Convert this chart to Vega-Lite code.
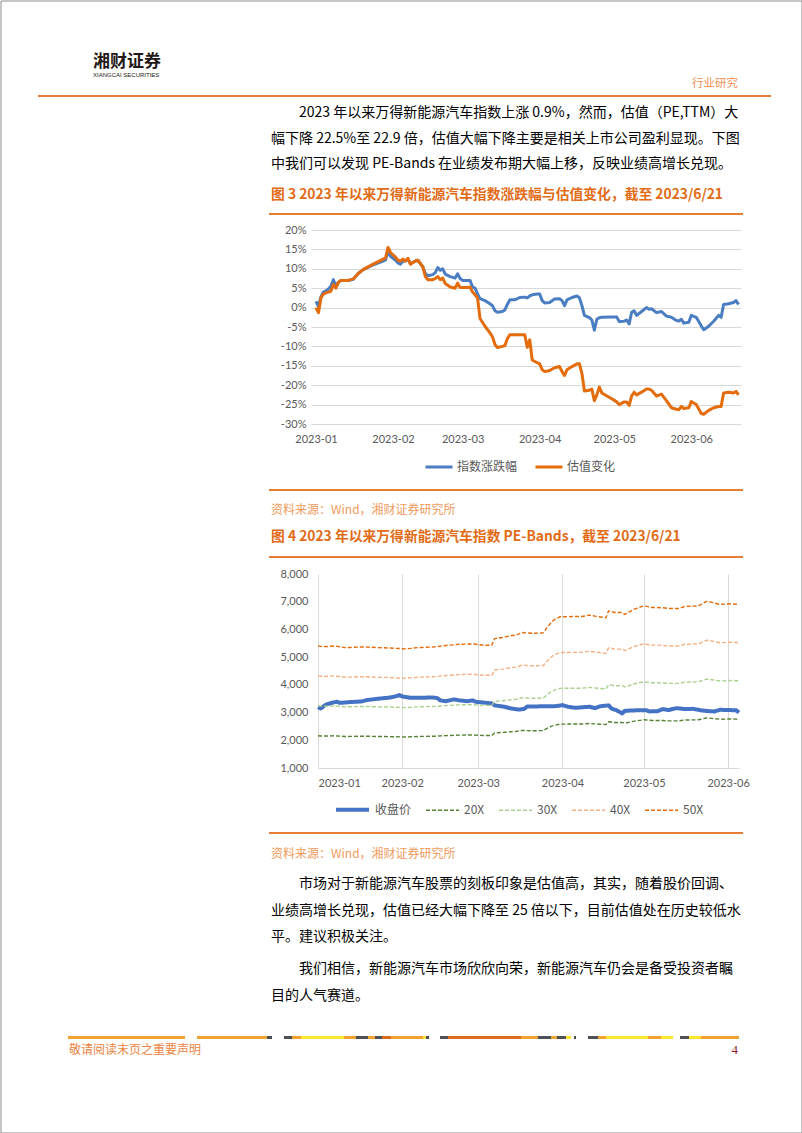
{
  "$schema": "https://vega.github.io/schema/vega-lite/v6.json",
  "background": "white",
  "padding": 0,
  "bounds": "flush",
  "spacing": 0,
  "resolve": {
    "scale": {"x": "independent", "y": "independent", "x2": "independent", "y2": "independent", "color": "independent", "strokeDash": "independent", "strokeWidth": "independent"},
    "legend": {"color": "independent", "strokeDash": "independent", "strokeWidth": "independent"}
  },
  "config": {
    "view": {"stroke": null},
    "font": "Noto Sans CJK SC",
    "axis": {"labelFont": "Lato", "labelFontSize": 11, "labelColor": "#595959"},
    "title": {"font": "Noto Sans CJK SC", "anchor": "start", "frame": "group", "fontWeight": "normal"}
  },
  "datasets": {
    "c1": [
      {"d":"2023-01-01","指数涨跌幅":1.6,"估值变化":0},
      {"d":"2023-01-02","指数涨跌幅":0.3,"估值变化":-1.3},
      {"d":"2023-01-03","指数涨跌幅":2.8,"估值变化":2.5},
      {"d":"2023-01-04","指数涨跌幅":4.0,"估值变化":3.5},
      {"d":"2023-01-05","指数涨跌幅":4.3,"估值变化":3.8},
      {"d":"2023-01-06","指数涨跌幅":4.8,"估值变化":4.0},
      {"d":"2023-01-07","指数涨跌幅":5.5,"估值变化":4.2},
      {"d":"2023-01-08","指数涨跌幅":7.2,"估值变化":6.0},
      {"d":"2023-01-09","指数涨跌幅":5.5,"估值变化":5.0},
      {"d":"2023-01-10","指数涨跌幅":6.5,"估值变化":6.5},
      {"d":"2023-01-11","指数涨跌幅":7.0,"估值变化":7.0},
      {"d":"2023-01-14","指数涨跌幅":7.0,"估值变化":7.0},
      {"d":"2023-01-16","指数涨跌幅":7.3,"估值变化":7.4},
      {"d":"2023-01-18","指数涨跌幅":8.8,"估值变化":8.8},
      {"d":"2023-01-20","指数涨跌幅":9.8,"估值变化":9.8},
      {"d":"2023-01-24","指数涨跌幅":11.0,"估值变化":11.2},
      {"d":"2023-01-28","指数涨跌幅":12.0,"估值变化":12.5},
      {"d":"2023-01-29","指数涨跌幅":12.3,"估值变化":12.8},
      {"d":"2023-01-30","指数涨跌幅":14.5,"估值变化":15.5},
      {"d":"2023-01-31","指数涨跌幅":13.2,"估值变化":14.2},
      {"d":"2023-02-02","指数涨跌幅":12.2,"估值变化":13.0},
      {"d":"2023-02-03","指数涨跌幅":11.5,"估值变化":12.2},
      {"d":"2023-02-04","指数涨跌幅":11.2,"估值变化":12.0},
      {"d":"2023-02-05","指数涨跌幅":12.0,"估值变化":12.5},
      {"d":"2023-02-06","指数涨跌幅":12.0,"估值变化":12.0},
      {"d":"2023-02-07","指数涨跌幅":12.5,"估值变化":12.7},
      {"d":"2023-02-08","指数涨跌幅":11.3,"估值变化":11.2},
      {"d":"2023-02-10","指数涨跌幅":12.0,"估值变化":12.0},
      {"d":"2023-02-11","指数涨跌幅":12.2,"估值变化":12.2},
      {"d":"2023-02-13","指数涨跌幅":10.5,"估值变化":10.5},
      {"d":"2023-02-14","指数涨跌幅":8.8,"估值变化":8.0},
      {"d":"2023-02-15","指数涨跌幅":8.2,"估值变化":7.2},
      {"d":"2023-02-17","指数涨跌幅":8.5,"估值变化":7.2},
      {"d":"2023-02-18","指数涨跌幅":9.0,"估值变化":7.5},
      {"d":"2023-02-19","指数涨跌幅":10.3,"估值变化":8.0},
      {"d":"2023-02-20","指数涨跌幅":9.6,"估值变化":7.2},
      {"d":"2023-02-21","指数涨跌幅":10.0,"估值变化":7.6},
      {"d":"2023-02-22","指数涨跌幅":8.6,"估值变化":6.2},
      {"d":"2023-02-24","指数涨跌幅":8.0,"估值变化":5.3},
      {"d":"2023-02-26","指数涨跌幅":7.6,"估值变化":5.0},
      {"d":"2023-02-27","指数涨跌幅":8.7,"估值变化":6.3},
      {"d":"2023-02-28","指数涨跌幅":7.5,"估值变化":5.2},
      {"d":"2023-03-01","指数涨跌幅":7.0,"估值变化":5.2},
      {"d":"2023-03-03","指数涨跌幅":7.0,"估值变化":5.2},
      {"d":"2023-03-04","指数涨跌幅":7.0,"估值变化":5.3},
      {"d":"2023-03-05","指数涨跌幅":5.3,"估值变化":4.0},
      {"d":"2023-03-06","指数涨跌幅":5.0,"估值变化":3.3},
      {"d":"2023-03-07","指数涨跌幅":3.5,"估值变化":2.5},
      {"d":"2023-03-08","指数涨跌幅":2.3,"估值变化":-2.8},
      {"d":"2023-03-10","指数涨跌幅":1.8,"估值变化":-4.8},
      {"d":"2023-03-12","指数涨跌幅":1.0,"估值变化":-6.5},
      {"d":"2023-03-13","指数涨跌幅":0.5,"估值变化":-7.5},
      {"d":"2023-03-14","指数涨跌幅":-0.8,"估值变化":-9.5},
      {"d":"2023-03-15","指数涨跌幅":-1.2,"估值变化":-10.3},
      {"d":"2023-03-17","指数涨跌幅":-1.0,"估值变化":-10.0},
      {"d":"2023-03-18","指数涨跌幅":-0.6,"估值变化":-9.8},
      {"d":"2023-03-19","指数涨跌幅":0.8,"估值变化":-8.0},
      {"d":"2023-03-20","指数涨跌幅":2.0,"估值变化":-7.0},
      {"d":"2023-03-22","指数涨跌幅":2.0,"估值变化":-7.0},
      {"d":"2023-03-24","指数涨跌幅":2.6,"估值变化":-7.0},
      {"d":"2023-03-26","指数涨跌幅":2.7,"估值变化":-7.0},
      {"d":"2023-03-27","指数涨跌幅":2.5,"估值变化":-10.2},
      {"d":"2023-03-28","指数涨跌幅":3.0,"估值变化":-8.3},
      {"d":"2023-03-29","指数涨跌幅":3.3,"估值变化":-13.5},
      {"d":"2023-03-31","指数涨跌幅":3.5,"估值变化":-14.2},
      {"d":"2023-04-01","指数涨跌幅":3.5,"估值变化":-14.5},
      {"d":"2023-04-02","指数涨跌幅":1.8,"估值变化":-16.0},
      {"d":"2023-04-03","指数涨跌幅":1.2,"估值变化":-16.5},
      {"d":"2023-04-05","指数涨跌幅":1.3,"估值变化":-16.2},
      {"d":"2023-04-07","指数涨跌幅":2.2,"估值变化":-15.5},
      {"d":"2023-04-09","指数涨跌幅":2.3,"估值变化":-15.2},
      {"d":"2023-04-10","指数涨跌幅":1.8,"估值变化":-16.5},
      {"d":"2023-04-11","指数涨跌幅":0.5,"估值变化":-17.5},
      {"d":"2023-04-12","指数涨跌幅":2.0,"估值变化":-16.0},
      {"d":"2023-04-14","指数涨跌幅":2.6,"估值变化":-15.2},
      {"d":"2023-04-16","指数涨跌幅":3.0,"估值变化":-14.5},
      {"d":"2023-04-17","指数涨跌幅":2.5,"估值变化":-14.5},
      {"d":"2023-04-18","指数涨跌幅":0.5,"估值变化":-17.0},
      {"d":"2023-04-19","指数涨跌幅":-2.0,"估值变化":-21.5},
      {"d":"2023-04-21","指数涨跌幅":-2.6,"估值变化":-21.3},
      {"d":"2023-04-22","指数涨跌幅":-3.2,"估值变化":-21.0},
      {"d":"2023-04-23","指数涨跌幅":-5.8,"估值变化":-24.0},
      {"d":"2023-04-24","指数涨跌幅":-3.0,"估值变化":-22.5},
      {"d":"2023-04-25","指数涨跌幅":-2.6,"估值变化":-20.5},
      {"d":"2023-04-26","指数涨跌幅":-2.5,"估值变化":-22.0},
      {"d":"2023-04-30","指数涨跌幅":-2.4,"估值变化":-23.5},
      {"d":"2023-05-02","指数涨跌幅":-2.4,"估值变化":-24.3},
      {"d":"2023-05-03","指数涨跌幅":-3.6,"估值变化":-25.0},
      {"d":"2023-05-05","指数涨跌幅":-3.5,"估值变化":-24.3},
      {"d":"2023-05-06","指数涨跌幅":-3.2,"估值变化":-24.3},
      {"d":"2023-05-07","指数涨跌幅":-4.2,"估值变化":-25.2},
      {"d":"2023-05-08","指数涨跌幅":-1.2,"估值变化":-22.8},
      {"d":"2023-05-09","指数涨跌幅":-0.8,"估值变化":-21.8},
      {"d":"2023-05-10","指数涨跌幅":-2.0,"估值变化":-22.5},
      {"d":"2023-05-12","指数涨跌幅":-1.0,"估值变化":-21.8},
      {"d":"2023-05-14","指数涨跌幅":0.0,"估值变化":-21.0},
      {"d":"2023-05-15","指数涨跌幅":-0.4,"估值变化":-21.0},
      {"d":"2023-05-16","指数涨跌幅":-0.3,"估值变化":-21.3},
      {"d":"2023-05-18","指数涨跌幅":-1.3,"估值变化":-22.8},
      {"d":"2023-05-20","指数涨跌幅":-1.0,"估值变化":-22.3},
      {"d":"2023-05-22","指数涨跌幅":-2.2,"估值变化":-24.0},
      {"d":"2023-05-24","指数涨跌幅":-2.5,"估值变化":-25.8},
      {"d":"2023-05-26","指数涨跌幅":-3.3,"估值变化":-26.2},
      {"d":"2023-05-27","指数涨跌幅":-3.5,"估值变化":-26.3},
      {"d":"2023-05-28","指数涨跌幅":-3.0,"估值变化":-25.5},
      {"d":"2023-05-29","指数涨跌幅":-4.0,"估值变化":-26.0},
      {"d":"2023-05-31","指数涨跌幅":-3.8,"估值变化":-25.8},
      {"d":"2023-06-01","指数涨跌幅":-2.0,"估值变化":-24.2},
      {"d":"2023-06-03","指数涨跌幅":-2.5,"估值变化":-25.0},
      {"d":"2023-06-05","指数涨跌幅":-4.7,"估值变化":-27.3},
      {"d":"2023-06-06","指数涨跌幅":-5.7,"估值变化":-27.5},
      {"d":"2023-06-08","指数涨跌幅":-4.8,"估值变化":-26.5},
      {"d":"2023-06-10","指数涨跌幅":-3.5,"估值变化":-25.8},
      {"d":"2023-06-12","指数涨跌幅":-2.0,"估值变化":-25.5},
      {"d":"2023-06-13","指数涨跌幅":-2.5,"估值变化":-25.5},
      {"d":"2023-06-14","指数涨跌幅":0.8,"估值变化":-22.0},
      {"d":"2023-06-16","指数涨跌幅":1.0,"估值变化":-21.8},
      {"d":"2023-06-18","指数涨跌幅":1.3,"估值变化":-22.0},
      {"d":"2023-06-19","指数涨跌幅":1.8,"估值变化":-21.6},
      {"d":"2023-06-20","指数涨跌幅":0.8,"估值变化":-22.5}
    ],
    "c2": [
      {"d":"2023-01-01","收盘价":3200,"20X":2162,"30X":3243,"40X":4324,"50X":5405},
      {"d":"2023-01-02","收盘价":3150,"20X":2156,"30X":3234,"40X":4312,"50X":5390},
      {"d":"2023-01-04","收盘价":3290,"20X":2152,"30X":3228,"40X":4304,"50X":5380},
      {"d":"2023-01-06","收盘价":3350,"20X":2158,"30X":3237,"40X":4316,"50X":5395},
      {"d":"2023-01-07","收盘价":3370,"20X":2162,"30X":3243,"40X":4324,"50X":5405},
      {"d":"2023-01-08","收盘价":3390,"20X":2156,"30X":3234,"40X":4312,"50X":5390},
      {"d":"2023-01-09","收盘价":3350,"20X":2150,"30X":3225,"40X":4300,"50X":5375},
      {"d":"2023-01-11","收盘价":3365,"20X":2138,"30X":3207,"40X":4276,"50X":5345},
      {"d":"2023-01-13","收盘价":3380,"20X":2140,"30X":3210,"40X":4280,"50X":5350},
      {"d":"2023-01-17","收盘价":3400,"20X":2148,"30X":3222,"40X":4296,"50X":5370},
      {"d":"2023-01-19","收盘价":3450,"20X":2145,"30X":3217,"40X":4290,"50X":5362},
      {"d":"2023-01-23","收盘价":3500,"20X":2138,"30X":3207,"40X":4276,"50X":5345},
      {"d":"2023-01-27","收盘价":3535,"20X":2132,"30X":3198,"40X":4264,"50X":5330},
      {"d":"2023-01-29","收盘价":3570,"20X":2128,"30X":3192,"40X":4256,"50X":5320},
      {"d":"2023-01-31","收盘价":3630,"20X":2124,"30X":3186,"40X":4248,"50X":5310},
      {"d":"2023-02-01","收盘价":3580,"20X":2122,"30X":3183,"40X":4244,"50X":5305},
      {"d":"2023-02-02","收盘价":3565,"20X":2120,"30X":3180,"40X":4240,"50X":5300},
      {"d":"2023-02-04","收盘价":3535,"20X":2126,"30X":3189,"40X":4252,"50X":5315},
      {"d":"2023-02-07","收盘价":3535,"20X":2138,"30X":3207,"40X":4276,"50X":5345},
      {"d":"2023-02-08","收盘价":3535,"20X":2140,"30X":3210,"40X":4280,"50X":5350},
      {"d":"2023-02-12","收盘价":3545,"20X":2146,"30X":3219,"40X":4292,"50X":5365},
      {"d":"2023-02-13","收盘价":3535,"20X":2148,"30X":3222,"40X":4296,"50X":5370},
      {"d":"2023-02-14","收盘价":3520,"20X":2152,"30X":3228,"40X":4304,"50X":5380},
      {"d":"2023-02-15","收盘价":3440,"20X":2158,"30X":3237,"40X":4316,"50X":5395},
      {"d":"2023-02-17","收盘价":3410,"20X":2168,"30X":3252,"40X":4336,"50X":5420},
      {"d":"2023-02-18","收盘价":3430,"20X":2172,"30X":3258,"40X":4344,"50X":5430},
      {"d":"2023-02-20","收盘价":3475,"20X":2178,"30X":3267,"40X":4356,"50X":5445},
      {"d":"2023-02-22","收盘价":3440,"20X":2186,"30X":3279,"40X":4372,"50X":5465},
      {"d":"2023-02-25","收盘价":3410,"20X":2189,"30X":3283,"40X":4378,"50X":5472},
      {"d":"2023-02-27","收盘价":3440,"20X":2191,"30X":3287,"40X":4382,"50X":5478},
      {"d":"2023-02-28","收盘价":3390,"20X":2186,"30X":3279,"40X":4372,"50X":5465},
      {"d":"2023-03-03","收盘价":3360,"20X":2172,"30X":3258,"40X":4344,"50X":5430},
      {"d":"2023-03-04","收盘价":3350,"20X":2172,"30X":3258,"40X":4344,"50X":5430},
      {"d":"2023-03-06","收盘价":3330,"20X":2172,"30X":3258,"40X":4344,"50X":5430},
      {"d":"2023-03-07","收盘价":3260,"20X":2268,"30X":3402,"40X":4536,"50X":5670},
      {"d":"2023-03-10","收盘价":3220,"20X":2284,"30X":3426,"40X":4568,"50X":5710},
      {"d":"2023-03-11","收盘价":3200,"20X":2292,"30X":3438,"40X":4584,"50X":5730},
      {"d":"2023-03-13","收盘价":3150,"20X":2308,"30X":3462,"40X":4616,"50X":5770},
      {"d":"2023-03-15","收盘价":3120,"20X":2320,"30X":3480,"40X":4640,"50X":5800},
      {"d":"2023-03-16","收盘价":3110,"20X":2336,"30X":3504,"40X":4672,"50X":5840},
      {"d":"2023-03-17","收盘价":3120,"20X":2356,"30X":3534,"40X":4712,"50X":5890},
      {"d":"2023-03-18","收盘价":3135,"20X":2352,"30X":3528,"40X":4704,"50X":5880},
      {"d":"2023-03-19","收盘价":3220,"20X":2350,"30X":3525,"40X":4700,"50X":5875},
      {"d":"2023-03-21","收盘价":3220,"20X":2344,"30X":3516,"40X":4688,"50X":5860},
      {"d":"2023-03-22","收盘价":3220,"20X":2345,"30X":3517,"40X":4690,"50X":5862},
      {"d":"2023-03-25","收盘价":3228,"20X":2350,"30X":3525,"40X":4700,"50X":5875},
      {"d":"2023-03-26","收盘价":3230,"20X":2412,"30X":3618,"40X":4824,"50X":6030},
      {"d":"2023-03-28","收盘价":3230,"20X":2508,"30X":3762,"40X":5016,"50X":6270},
      {"d":"2023-03-29","收盘价":3230,"20X":2540,"30X":3810,"40X":5080,"50X":6350},
      {"d":"2023-03-31","收盘价":3250,"20X":2582,"30X":3873,"40X":5164,"50X":6455},
      {"d":"2023-04-01","收盘价":3270,"20X":2583,"30X":3875,"40X":5166,"50X":6458},
      {"d":"2023-04-03","收盘价":3210,"20X":2585,"30X":3877,"40X":5170,"50X":6462},
      {"d":"2023-04-05","收盘价":3180,"20X":2586,"30X":3879,"40X":5172,"50X":6465},
      {"d":"2023-04-06","收盘价":3170,"20X":2586,"30X":3879,"40X":5172,"50X":6465},
      {"d":"2023-04-08","收盘价":3190,"20X":2586,"30X":3879,"40X":5172,"50X":6465},
      {"d":"2023-04-11","收盘价":3210,"20X":2606,"30X":3909,"40X":5212,"50X":6515},
      {"d":"2023-04-13","收盘价":3160,"20X":2592,"30X":3888,"40X":5184,"50X":6480},
      {"d":"2023-04-15","收盘价":3230,"20X":2580,"30X":3870,"40X":5160,"50X":6450},
      {"d":"2023-04-17","收盘价":3250,"20X":2568,"30X":3852,"40X":5136,"50X":6420},
      {"d":"2023-04-18","收盘价":3260,"20X":2668,"30X":4002,"40X":5336,"50X":6670},
      {"d":"2023-04-19","收盘价":3150,"20X":2660,"30X":3990,"40X":5320,"50X":6650},
      {"d":"2023-04-20","收盘价":3110,"20X":2644,"30X":3966,"40X":5288,"50X":6610},
      {"d":"2023-04-21","收盘价":3080,"20X":2644,"30X":3966,"40X":5288,"50X":6610},
      {"d":"2023-04-23","收盘价":2970,"20X":2644,"30X":3966,"40X":5288,"50X":6610},
      {"d":"2023-04-24","收盘价":3065,"20X":2616,"30X":3924,"40X":5232,"50X":6540},
      {"d":"2023-04-27","收盘价":3075,"20X":2684,"30X":4026,"40X":5368,"50X":6710},
      {"d":"2023-04-28","收盘价":3080,"20X":2700,"30X":4050,"40X":5400,"50X":6750},
      {"d":"2023-05-01","收盘价":3080,"20X":2740,"30X":4110,"40X":5480,"50X":6850},
      {"d":"2023-05-02","收盘价":3080,"20X":2732,"30X":4098,"40X":5464,"50X":6830},
      {"d":"2023-05-03","收盘价":3040,"20X":2724,"30X":4086,"40X":5448,"50X":6810},
      {"d":"2023-05-04","收盘价":3045,"20X":2716,"30X":4074,"40X":5432,"50X":6790},
      {"d":"2023-05-06","收盘价":3050,"20X":2716,"30X":4074,"40X":5432,"50X":6790},
      {"d":"2023-05-08","收盘价":3125,"20X":2712,"30X":4068,"40X":5424,"50X":6780},
      {"d":"2023-05-10","收盘价":3090,"20X":2702,"30X":4053,"40X":5404,"50X":6755},
      {"d":"2023-05-13","收盘价":3160,"20X":2702,"30X":4053,"40X":5404,"50X":6755},
      {"d":"2023-05-14","收盘价":3150,"20X":2702,"30X":4053,"40X":5404,"50X":6755},
      {"d":"2023-05-16","收盘价":3125,"20X":2732,"30X":4098,"40X":5464,"50X":6830},
      {"d":"2023-05-19","收盘价":3135,"20X":2736,"30X":4104,"40X":5472,"50X":6840},
      {"d":"2023-05-21","收盘价":3100,"20X":2740,"30X":4110,"40X":5480,"50X":6850},
      {"d":"2023-05-22","收盘价":3080,"20X":2760,"30X":4140,"40X":5520,"50X":6900},
      {"d":"2023-05-24","收盘价":3060,"20X":2804,"30X":4206,"40X":5608,"50X":7010},
      {"d":"2023-05-25","收盘价":3050,"20X":2800,"30X":4200,"40X":5600,"50X":7000},
      {"d":"2023-05-26","收盘价":3045,"20X":2790,"30X":4185,"40X":5580,"50X":6975},
      {"d":"2023-05-27","收盘价":3040,"20X":2780,"30X":4170,"40X":5560,"50X":6950},
      {"d":"2023-05-29","收盘价":3100,"20X":2760,"30X":4140,"40X":5520,"50X":6900},
      {"d":"2023-06-02","收盘价":3090,"20X":2770,"30X":4155,"40X":5540,"50X":6925},
      {"d":"2023-06-04","收盘价":3080,"20X":2764,"30X":4146,"40X":5528,"50X":6910},
      {"d":"2023-06-05","收盘价":3000,"20X":2756,"30X":4134,"40X":5512,"50X":6890}
    ],
    "stripe": [
      {"i":1,"k":"o","w":117},{"i":2,"k":"n","w":12},{"i":3,"k":"o","w":70},{"i":4,"k":"g","w":5},
      {"i":5,"k":"n","w":12},{"i":6,"k":"g","w":8},{"i":7,"k":"o","w":9},{"i":8,"k":"y","w":43},
      {"i":9,"k":"o","w":12},{"i":10,"k":"g","w":12},{"i":11,"k":"o","w":7},{"i":12,"k":"g","w":7},
      {"i":13,"k":"d","w":9},{"i":14,"k":"o","w":32},{"i":15,"k":"y","w":3},{"i":16,"k":"g","w":3},
      {"i":17,"k":"n","w":11},{"i":18,"k":"g","w":8},{"i":19,"k":"d","w":73},{"i":20,"k":"o","w":17},
      {"i":21,"k":"g","w":13},{"i":22,"k":"o","w":6},{"i":23,"k":"g","w":9},{"i":24,"k":"y","w":5},
      {"i":25,"k":"n","w":3},{"i":26,"k":"g","w":2},{"i":27,"k":"n","w":12},{"i":28,"k":"g","w":10},
      {"i":29,"k":"o","w":8},{"i":30,"k":"y","w":42},{"i":31,"k":"o","w":13},{"i":32,"k":"y","w":12},
      {"i":33,"k":"n","w":7},{"i":34,"k":"g","w":9},{"i":35,"k":"y","w":12},{"i":36,"k":"o","w":38}
    ]
  },
  "vconcat": [
    {
      "width": 801,
      "height": 95,
      "title": {"text": "行业研究", "orient": "top", "anchor": "end", "offset": -89, "dx": -64, "fontSize": 11.5, "color": "#EE8F55"},
      "data": {"values": [{}]},
      "mark": {"type": "rect", "fill": null, "fillOpacity": 0, "stroke": "#8c8c8c", "strokeWidth": 1},
      "encoding": {
        "x": {"datum": 0, "type": "quantitative", "scale": {"domain": [0, 1], "range": [0, 801]}, "axis": null},
        "x2": {"datum": 1},
        "y": {"datum": 0, "type": "quantitative", "scale": {"domain": [0, 1], "range": [0, 1132]}, "axis": null},
        "y2": {"datum": 1}
      }
    },
    {
      "width": 801,
      "height": 118,
      "title": {"text": "湘财证券", "subtitle": "XIANGCAI SECURITIES", "orient": "top", "offset": 16, "dx": 92, "fontSize": 17, "fontWeight": "bold", "color": "#231815", "subtitleFont": "Liberation Sans", "subtitleFontSize": 6, "subtitleColor": "#231815", "subtitlePadding": 1},
      "data": {"values": [{}]},
      "mark": {"type": "rule", "color": "#E67E35", "strokeWidth": 2},
      "encoding": {
        "x": {"datum": 0, "type": "quantitative", "scale": {"domain": [0, 1], "range": [37, 770]}, "axis": null},
        "x2": {"datum": 1},
        "y": {"datum": 1, "type": "quantitative", "scale": {"domain": [0, 1]}, "axis": null}
      }
    },
    {
      "width": 801,
      "height": 16,
      "title": {
        "text": ["\u200b\u3000\u30002023 年以来万得新能源汽车指数上涨 0.9%，然而，估值（PE,TTM）大", "幅下降 22.5%至 22.9 倍，估值大幅下降主要是相关上市公司盈利显现。下图", "中我们可以发现 PE-Bands 在业绩发布期大幅上移，反映业绩高增长兑现。"],
        "subtitle": "图 3 2023 年以来万得新能源汽车指数涨跌幅与估值变化，截至 2023/6/21",
        "orient": "top", "offset": 11, "dx": 270, "fontSize": 14, "lineHeight": 25.5, "color": "#000000",
        "subtitleFont": "Noto Sans CJK SC", "subtitleFontSize": 13.8, "subtitleFontWeight": "bold", "subtitleColor": "#E26B15", "subtitlePadding": 17
      },
      "data": {"values": [{}]},
      "mark": {"type": "rule", "color": "#E67E35", "strokeWidth": 2},
      "encoding": {
        "x": {"datum": 0, "type": "quantitative", "scale": {"domain": [0, 1], "range": [268, 742]}, "axis": null},
        "x2": {"datum": 1},
        "y": {"datum": 1, "type": "quantitative", "scale": {"domain": [0, 1]}, "axis": null}
      }
    },
    {
      "width": 801,
      "height": 194,
      "data": {"name": "c1"},
      "transform": [{"fold": ["指数涨跌幅", "估值变化"], "as": ["s", "v"]}],
      "mark": {"type": "line", "strokeWidth": 3, "strokeJoin": "round"},
      "encoding": {
        "x": {
          "field": "d", "type": "temporal",
          "scale": {"type": "utc", "domain": [{"year": 2022, "month": 12, "date": 30, "utc": true}, {"year": 2023, "month": 6, "date": 21, "utc": true}], "range": [310, 740]},
          "axis": {"title": null, "values": [{"year": 2023, "month": 1, "date": 1, "utc": true}, {"year": 2023, "month": 2, "date": 1, "utc": true}, {"year": 2023, "month": 3, "date": 1, "utc": true}, {"year": 2023, "month": 4, "date": 1, "utc": true}, {"year": 2023, "month": 5, "date": 1, "utc": true}, {"year": 2023, "month": 6, "date": 1, "utc": true}], "format": "%Y-%m", "grid": false, "domain": false, "ticks": false, "labelPadding": 9}
        },
        "y": {
          "field": "v", "type": "quantitative",
          "scale": {"domain": [-30, 20], "nice": false, "zero": false},
          "axis": {"title": null, "values": [-30, -25, -20, -15, -10, -5, 0, 5, 10, 15, 20], "labelExpr": "datum.value + '%'", "grid": true, "gridColor": "#d9d9d9", "domain": false, "ticks": false, "offset": -310, "labelPadding": 5}
        },
        "color": {
          "field": "s", "type": "nominal",
          "scale": {"domain": ["指数涨跌幅", "估值变化"], "range": ["#4A7DC1", "#E46C0A"]},
          "legend": {"title": null, "orient": "none", "legendX": 423, "legendY": 222, "direction": "horizontal", "symbolType": "stroke", "symbolSize": 729, "symbolStrokeWidth": 3, "labelFont": "Noto Sans CJK SC", "labelFontSize": 12, "labelColor": "#595959", "labelOffset": 3, "columnPadding": 11, "padding": 0}
        }
      }
    },
    {
      "width": 801,
      "height": 66,
      "title": {
        "text": "资料来源：Wind，湘财证券研究所",
        "subtitle": "图 4 2023 年以来万得新能源汽车指数 PE-Bands，截至 2023/6/21",
        "orient": "bottom", "offset": 14, "dx": 270, "fontSize": 12, "color": "#F09A5C",
        "subtitleFont": "Noto Sans CJK SC", "subtitleFontSize": 13.8, "subtitleFontWeight": "bold", "subtitleColor": "#E26B15", "subtitlePadding": 13
      },
      "data": {"values": [{}]},
      "mark": {"type": "rule", "color": "#E67E35", "strokeWidth": 2},
      "encoding": {
        "x": {"datum": 0, "type": "quantitative", "scale": {"domain": [0, 1], "range": [268, 742]}, "axis": null},
        "x2": {"datum": 1},
        "y": {"datum": 0, "type": "quantitative", "scale": {"domain": [0, 1]}, "axis": null}
      }
    },
    {
      "width": 801,
      "height": 67,
      "data": {"values": [{}]},
      "mark": {"type": "rule", "color": "#E67E35", "strokeWidth": 2},
      "encoding": {
        "x": {"datum": 0, "type": "quantitative", "scale": {"domain": [0, 1], "range": [268, 742]}, "axis": null},
        "x2": {"datum": 1},
        "y": {"datum": 0, "type": "quantitative", "scale": {"domain": [0, 1]}, "axis": null}
      }
    },
    {
      "width": 801,
      "height": 17,
      "data": {"values": []},
      "mark": "text"
    },
    {
      "width": 801,
      "height": 194,
      "data": {"name": "c2"},
      "transform": [{"fold": ["收盘价", "20X", "30X", "40X", "50X"], "as": ["s", "v"]}],
      "mark": {"type": "line", "strokeJoin": "round"},
      "encoding": {
        "x": {
          "field": "d", "type": "temporal",
          "scale": {"type": "utc", "domain": [{"year": 2023, "month": 1, "date": 1, "utc": true}, {"year": 2023, "month": 6, "date": 5, "utc": true}], "range": [317, 738]},
          "axis": {"title": null, "values": [{"year": 2023, "month": 1, "date": 1, "utc": true}, {"year": 2023, "month": 2, "date": 1, "utc": true}, {"year": 2023, "month": 3, "date": 1, "utc": true}, {"year": 2023, "month": 4, "date": 1, "utc": true}, {"year": 2023, "month": 5, "date": 1, "utc": true}, {"year": 2023, "month": 6, "date": 1, "utc": true}], "format": "%Y-%m", "grid": true, "gridColor": "#d9d9d9", "domain": true, "domainColor": "#d9d9d9", "ticks": false, "labelPadding": 9}
        },
        "y": {
          "field": "v", "type": "quantitative",
          "scale": {"domain": [1000, 8000], "nice": false, "zero": false},
          "axis": {"title": null, "values": [1000, 2000, 3000, 4000, 5000, 6000, 7000, 8000], "labelExpr": "format(datum.value, ',.0f')", "grid": false, "domain": false, "ticks": false, "offset": -317, "labelPadding": 10}
        },
        "color": {
          "field": "s", "type": "nominal",
          "scale": {"domain": ["收盘价", "20X", "30X", "40X", "50X"], "range": ["#4472C4", "#548235", "#A9D18E", "#F4B183", "#E46C0A"]},
          "legend": {"title": null, "orient": "none", "legendX": 333, "legendY": 217, "direction": "horizontal", "symbolType": "stroke", "symbolSize": 1089, "labelFont": "Noto Sans CJK SC", "labelFontSize": 12, "labelColor": "#595959", "labelOffset": 4, "columnPadding": 11, "padding": 0}
        },
        "strokeDash": {
          "field": "s", "type": "nominal",
          "scale": {"domain": ["收盘价", "20X", "30X", "40X", "50X"], "range": [[1, 0], [4, 2], [4, 2], [4, 2], [4, 2]]},
          "legend": {"title": null, "orient": "none", "legendX": 333, "legendY": 217, "direction": "horizontal", "symbolType": "stroke", "symbolSize": 1089, "labelFont": "Noto Sans CJK SC", "labelFontSize": 12, "labelColor": "#595959", "labelOffset": 4, "columnPadding": 11, "padding": 0}
        },
        "strokeWidth": {
          "field": "s", "type": "nominal",
          "scale": {"type": "ordinal", "domain": ["收盘价", "20X", "30X", "40X", "50X"], "range": [4, 1.4, 1.4, 1.4, 1.4]},
          "legend": {"title": null, "orient": "none", "legendX": 333, "legendY": 217, "direction": "horizontal", "symbolType": "stroke", "symbolSize": 1089, "labelFont": "Noto Sans CJK SC", "labelFontSize": 12, "labelColor": "#595959", "labelOffset": 4, "columnPadding": 11, "padding": 0}
        }
      }
    },
    {
      "width": 801,
      "height": 65,
      "title": {
        "text": "资料来源：Wind，湘财证券研究所",
        "subtitle": ["\u200b\u3000\u3000市场对于新能源汽车股票的刻板印象是估值高，其实，随着股价回调、", "业绩高增长兑现，估值已经大幅下降至 25 倍以下，目前估值处在历史较低水", "平。建议积极关注。"],
        "orient": "bottom", "offset": 15, "dx": 270, "fontSize": 12, "color": "#F09A5C",
        "subtitleFont": "Noto Sans CJK SC", "subtitleFontSize": 14, "subtitleColor": "#000000", "subtitleLineHeight": 26.5, "subtitlePadding": 16
      },
      "data": {"values": [{}]},
      "mark": {"type": "rule", "color": "#E67E35", "strokeWidth": 2},
      "encoding": {
        "x": {"datum": 0, "type": "quantitative", "scale": {"domain": [0, 1], "range": [268, 742]}, "axis": null},
        "x2": {"datum": 1},
        "y": {"datum": 0, "type": "quantitative", "scale": {"domain": [0, 1]}, "axis": null}
      }
    },
    {
      "width": 801,
      "height": 123,
      "title": {
        "text": ["\u200b\u3000\u3000我们相信，新能源汽车市场欣欣向荣，新能源汽车仍会是备受投资者瞩", "目的人气赛道。"],
        "orient": "bottom", "offset": 6, "dx": 270, "fontSize": 14, "lineHeight": 27, "color": "#000000"
      },
      "data": {"values": []},
      "mark": "text"
    },
    {
      "width": 801,
      "height": 80,
      "title": {"text": "4", "orient": "bottom", "anchor": "end", "offset": 8, "dx": -64, "font": "Liberation Serif", "fontSize": 13, "color": "#8B1E2A"},
      "data": {"values": []},
      "mark": "text"
    },
    {
      "width": 801,
      "height": 3,
      "title": {"text": "敬请阅读末页之重要声明", "orient": "bottom", "offset": 6, "dx": 68, "fontSize": 12, "color": "#EC8340"},
      "data": {"name": "stripe"},
      "mark": {"type": "bar", "size": 3},
      "encoding": {
        "x": {"field": "w", "type": "quantitative", "stack": "zero", "scale": {"domain": [0, 671], "range": [67, 738]}, "axis": null},
        "order": {"field": "i", "type": "quantitative"},
        "color": {"field": "k", "type": "nominal", "scale": {"domain": ["o", "g", "y", "d", "n"], "range": ["#F2A22E", "#4F5058", "#FFE62E", "#D96C1E", "#FFFFFF"]}, "legend": null}
      }
    }
  ]
}
